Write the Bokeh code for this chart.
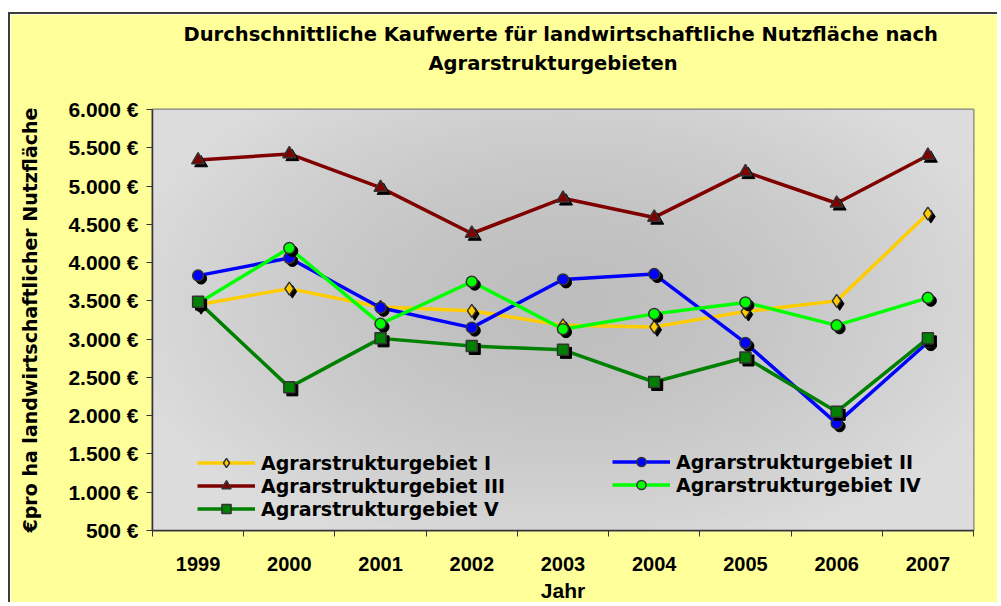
import numpy as np
from bokeh.plotting import figure
from bokeh.models import Legend, LegendItem, FixedTicker, Range1d, Title
from bokeh.embed import file_html
from bokeh.resources import INLINE

years = ["1999", "2000", "2001", "2002", "2003", "2004", "2005", "2006", "2007"]
gebiet_1 = [3450, 3660, 3420, 3370, 3180, 3160, 3360, 3500, 4640]
gebiet_2 = [3830, 4060, 3410, 3150, 3780, 3850, 2950, 1900, 2960]
gebiet_3 = [5340, 5420, 4980, 4380, 4840, 4590, 5185, 4775, 5400]
gebiet_4 = [3470, 4190, 3200, 3750, 3130, 3330, 3480, 3180, 3540]
gebiet_5 = [3490, 2370, 3010, 2910, 2860, 2440, 2760, 2050, 3010]
y_ticks = [500, 1000, 1500, 2000, 2500, 3000, 3500, 4000, 4500, 5000, 5500, 6000]
labels = ["Agrarstrukturgebiet I", "Agrarstrukturgebiet II", "Agrarstrukturgebiet III",
          "Agrarstrukturgebiet IV", "Agrarstrukturgebiet V"]
title_lines = ["Durchschnittliche Kaufwerte für landwirtschaftliche Nutzfläche nach",
               "Agrarstrukturgebieten"]

WIDE = "DejaVu Sans"
NARROW = "Liberation Sans"

xs = [i + 0.5 for i in range(len(years))]
y_lo, y_hi = y_ticks[0], y_ticks[-1]

p = figure(width=989, height=590, x_range=Range1d(0, len(years)), y_range=Range1d(y_lo, y_hi),
           output_backend="svg", toolbar_location=None, title=None,
           min_border_left=142, min_border_right=26, min_border_top=95, min_border_bottom=72,
           background_fill_color="#CDCDCD", border_fill_color="#FFFF99",
           outline_line_color="#808080", outline_line_width=2,
           styles={"margin-left": "8px", "margin-top": "12px",
                   "border-left": "2px solid #3c3c3c", "border-top": "2px solid #3c3c3c"})

# plot-area shading (light edges, darker middle)
gy, gx = np.mgrid[0:60, 0:100]
r = np.sqrt(((gx - 50) / 55.0) ** 2 + ((gy - 32) / 38.0) ** 2)
shade = (190 + 30 * np.clip(r, 0, 1) ** 1.5).astype(np.uint32)
img = (255 << 24) | (shade << 16) | (shade << 8) | shade
p.image_rgba(image=[img.astype(np.uint32)], x=0, y=y_lo, dw=len(years), dh=y_hi - y_lo)

# titles: spacer closest to plot, then line 2, then line 1
p.add_layout(Title(text="\u00a0", text_font_size="1px", standoff=30), "above")
p.add_layout(Title(text=title_lines[1], align="left", offset=276, text_font=WIDE,
                   text_font_size="19.5px", text_font_style="bold", text_color="#000000",
                   standoff=4), "above")
p.add_layout(Title(text=title_lines[0], align="left", offset=31, text_font=WIDE,
                   text_font_size="19.5px", text_font_style="bold", text_color="#000000",
                   standoff=4), "above")

# x axis
xa = p.xaxis[0]
xa.ticker = FixedTicker(ticks=xs, minor_ticks=list(range(len(years) + 1)))
xa.major_label_overrides = {x: y for x, y in zip(xs, years)}
xa.major_tick_line_color = None
xa.major_tick_in = 0
xa.major_tick_out = 0
xa.minor_tick_in = 0
xa.minor_tick_out = 6
xa.minor_tick_line_color = "#333333"
xa.axis_line_color = "#333333"
xa.axis_line_width = 1.5
xa.major_label_standoff = 20
xa.major_label_text_font = NARROW
xa.major_label_text_font_size = "20px"
xa.major_label_text_font_style = "bold"
xa.major_label_text_color = "#000000"
xa.axis_label = "Jahr"
xa.axis_label_text_font = NARROW
xa.axis_label_text_font_size = "21px"
xa.axis_label_text_font_style = "bold"
xa.axis_label_text_color = "#000000"
xa.axis_label_standoff = 5

# y axis
ya = p.yaxis[0]
ya.ticker = FixedTicker(ticks=y_ticks, minor_ticks=[])
ya.major_label_overrides = {v: f"{v:,}".replace(",", ".") + " €" for v in y_ticks}
ya.major_tick_in = 0
ya.major_tick_out = 6
ya.major_tick_line_color = "#333333"
ya.axis_line_color = "#333333"
ya.axis_line_width = 1.5
ya.major_label_standoff = 8
ya.major_label_text_font = NARROW
ya.major_label_text_font_size = "21px"
ya.major_label_text_font_style = "bold"
ya.major_label_text_color = "#000000"
ya.axis_label = "€pro ha landwirtschaftlicher Nutzfläche"
ya.axis_label_text_font = WIDE
ya.axis_label_text_font_size = "19px"
ya.axis_label_text_font_style = "bold"
ya.axis_label_text_color = "#000000"
ya.axis_label_standoff = 24

p.xgrid.visible = False
p.ygrid.ticker = FixedTicker(ticks=y_ticks, minor_ticks=[])
p.ygrid.grid_line_color = "#333333"
p.ygrid.grid_line_dash = "6 4"
p.ygrid.grid_line_width = 1

# series
series = [
    (gebiet_1, "#FFCC00", "diamond", 13),
    (gebiet_2, "#0000FF", "circle", 11),
    (gebiet_3, "#800000", "triangle", 13),
    (gebiet_4, "#00FF00", "circle", 11),
    (gebiet_5, "#008000", "square", 11),
]

dx = 3 / 91.2
dy = 3 / (423 / 5500)

line_rs = []
for vals, col, mk, sz in series:
    line_rs.append(p.line(xs, vals, line_color=col, line_width=3.5))

marker_rs = []
for vals, col, mk, sz in series:
    p.scatter([x + dx for x in xs], [v - dy for v in vals], marker=mk, size=sz,
              fill_color="#000000", line_color="#000000")
    marker_rs.append(p.scatter(xs, vals, marker=mk, size=sz, fill_color=col,
                               line_color="#333333", line_width=1.5))

items = [LegendItem(label=labels[i], renderers=[line_rs[i], marker_rs[i]]) for i in range(5)]


def make_legend(its, loc):
    return Legend(items=its, location=loc, orientation="vertical", padding=0, margin=0,
                  spacing=0, label_height=23, glyph_height=23, glyph_width=58,
                  label_standoff=6, label_text_font=WIDE, label_text_font_size="19px",
                  label_text_font_style="bold", label_text_color="#000000",
                  background_fill_alpha=0, border_line_alpha=0)


p.add_layout(make_legend([items[0], items[2], items[4]], (45, 10)))
p.add_layout(make_legend([items[1], items[3]], (460, 34)))

open("out.html", "w").write(file_html(p, INLINE))
